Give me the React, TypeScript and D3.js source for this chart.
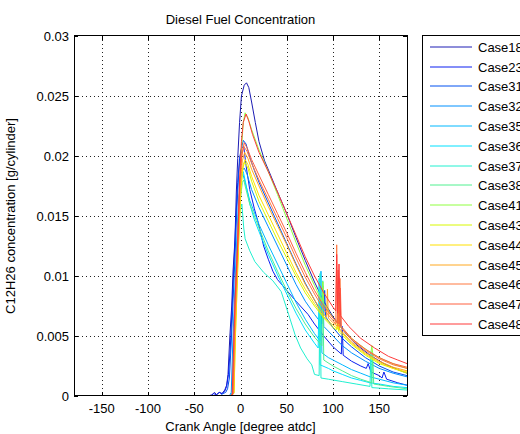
import React from "react";
import * as d3 from "d3";

const TITLE = "Diesel Fuel Concentration";
const X_LABEL = "Crank Angle [degree atdc]";
const Y_LABEL = "C12H26 concentration [g/cylinder]";

const X_TICKS = [-150, -100, -50, 0, 50, 100, 150];
const Y_TICKS = [0, 0.005, 0.01, 0.015, 0.02, 0.025, 0.03];
const Y_TICK_LABELS = ["0", "0.005", "0.01", "0.015", "0.02", "0.025", "0.03"];

const CASES = ["Case18", "Case23", "Case31", "Case32", "Case35", "Case36", "Case37", "Case38", "Case41", "Case43", "Case44", "Case45", "Case46", "Case47", "Case48"];

// [crank angle, concentration]
const case18 = [[-35,0],[-31,0.0001],[-28,0.0003],[-26,0.0001],[-23,0.0003],[-20,0.0002],[-17,0.0005],[-15,0.0009],[-13.5,0.0018],[-11.5,0.005],[-9.5,0.0075],[-8,0.0105],[-6,0.013],[-4.5,0.017],[-3,0.0198],[-1,0.0228],[1,0.025],[4,0.0259],[6.5,0.0261],[9,0.0257],[12,0.0245],[16,0.0228],[20,0.0212],[26,0.0196],[32,0.0185],[40,0.017],[50,0.0152],[60,0.0132],[70,0.0113],[80,0.0095],[90,0.0079],[100,0.0066],[106,0.006],[107,0.0086],[108,0.0058],[115,0.0051],[125,0.0043],[140,0.0034],[155,0.0027],[170,0.0022],[180,0.0019]];
const case23 = [[-32,0],[-29,0.0002],[-26,0.0001],[-23,0.0003],[-20,0.0002],[-17,0.0004],[-15,0.0008],[-13,0.0018],[-11,0.004],[-9,0.0075],[-7,0.011],[-5,0.0148],[-3,0.0178],[-1,0.0198],[1.5,0.0207],[3.5,0.0208],[6,0.0192],[10,0.0172],[15,0.0156],[19,0.0145],[25,0.0125],[30,0.0114],[35,0.0104],[40,0.0097],[50,0.0088],[60,0.0079],[73,0.0068],[80,0.006],[90,0.005],[100,0.0041],[109,0.0035],[110,0.0058],[111,0.0034],[120,0.0029],[130,0.0025],[136,0.0023],[138,0.0027],[141,0.002],[150,0.0017],[153,0.0015],[155,0.002],[158,0.0014],[170,0.0011],[180,0.0009]];
const case31 = [[-22,0],[-19,0.0002],[-16,0.0003],[-14,0.0006],[-12,0.0015],[-10,0.0045],[-8,0.008],[-6,0.0115],[-4,0.0155],[-2,0.0185],[0,0.0203],[3,0.0213],[6,0.021],[10,0.0199],[15,0.0188],[20,0.0178],[30,0.0161],[40,0.0144],[50,0.0127],[60,0.011],[70,0.0094],[80,0.008],[88,0.0069],[90,0.0067],[91,0.0088],[92,0.0066],[100,0.0057],[110,0.0048],[120,0.0041],[135,0.0032],[150,0.0025],[165,0.002],[180,0.0017]];
const case32 = [[-12,0],[-10,0.0003],[-8.5,0.004],[-6.5,0.008],[-4.5,0.012],[-2.5,0.0155],[-0.5,0.0178],[2,0.0188],[4,0.019],[7,0.0185],[12,0.0172],[20,0.0157],[30,0.0141],[40,0.0125],[50,0.0109],[60,0.0093],[70,0.0079],[80,0.0068],[88,0.006],[89,0.0092],[90,0.0058],[100,0.005],[110,0.0042],[120,0.0036],[135,0.0029],[150,0.0023],[165,0.0019],[180,0.0016]];
const case35 = [[-11,0],[-9,0.0003],[-7.5,0.0045],[-5.5,0.009],[-3.5,0.013],[-1.5,0.0165],[0.5,0.0182],[2.5,0.0185],[5,0.0178],[10,0.0163],[20,0.0143],[30,0.0126],[40,0.011],[50,0.0094],[60,0.0078],[70,0.0064],[80,0.0052],[86,0.0046],[87,0.0104],[88,0.0036],[95,0.0032],[100,0.003],[110,0.0026],[120,0.0022],[130,0.0019],[140,0.0016],[150,0.0014],[165,0.0011],[180,0.0009]];
const case36 = [[-11,0],[-8.5,0.0003],[-7,0.005],[-5,0.0095],[-3,0.0138],[-1,0.017],[1,0.0184],[3,0.0187],[6,0.0176],[10,0.016],[15,0.0147],[20,0.0137],[30,0.0118],[40,0.0101],[50,0.0085],[60,0.0069],[70,0.0055],[80,0.0044],[84,0.004],[85,0.0098],[86,0.0026],[95,0.0023],[100,0.0021],[110,0.0018],[120,0.0015],[130,0.0013],[140,0.0011],[150,0.001],[165,0.0008],[180,0.0007]];
const case37 = [[-10,0],[-8,0.0003],[-6.5,0.005],[-4.5,0.0095],[-2.5,0.013],[-0.5,0.0155],[1.5,0.016],[3.5,0.014],[5,0.0131],[10,0.0121],[15.5,0.0112],[25,0.0103],[35,0.0096],[44,0.0087],[52,0.0068],[59,0.0051],[65,0.004],[72,0.0031],[77,0.0026],[80,0.0018],[85,0.0017],[86,0.0102],[87,0.0015],[95,0.0014],[110,0.0012],[125,0.001],[140,0.0008],[141,0.0037],[142,0.0007],[160,0.0006],[180,0.0005]];
const case38 = [[-10,0],[-7.5,0.0002],[-6,0.005],[-4,0.0095],[-2,0.0135],[0,0.0165],[2,0.0178],[3.5,0.018],[6,0.0172],[10,0.016],[20,0.014],[30,0.0121],[40,0.0104],[50,0.0088],[60,0.0073],[70,0.006],[80,0.0049],[88,0.0042],[89,0.0096],[90,0.003],[100,0.0025],[110,0.0021],[120,0.0017],[130,0.0014],[142,0.0011],[143,0.0035],[144,0.001],[160,0.0008],[180,0.0006]];
const case41 = [[-11,0],[-8,0.0002],[-6.5,0.005],[-5,0.009],[-3,0.0125],[-1,0.017],[1,0.0205],[3,0.0228],[5,0.0236],[8,0.0232],[12,0.0222],[20,0.0205],[30,0.0187],[40,0.0168],[50,0.0148],[60,0.0128],[70,0.0109],[80,0.0092],[88,0.0079],[89,0.0095],[90,0.0077],[100,0.0065],[110,0.0056],[120,0.0048],[130,0.0042],[141,0.0036],[142,0.0042],[143,0.0035],[155,0.003],[168,0.0026],[180,0.0023]];
const case43 = [[-10,0],[-7,0.0003],[-5.5,0.005],[-3.5,0.0095],[-1.5,0.0138],[0.5,0.0172],[2.5,0.019],[4.5,0.0195],[8,0.019],[12,0.0179],[20,0.0162],[30,0.0146],[40,0.013],[50,0.0115],[60,0.01],[70,0.0086],[80,0.0075],[90,0.0065],[100,0.0057],[104,0.0055],[105,0.007],[106,0.0054],[120,0.0043],[135,0.0034],[150,0.0027],[165,0.0023],[180,0.0019]];
const case44 = [[-10,0],[-7,0.0003],[-5.5,0.005],[-3.5,0.0095],[-1.5,0.014],[0.5,0.0175],[3,0.0193],[5,0.0197],[8,0.0193],[12,0.0183],[20,0.0167],[30,0.0151],[40,0.0135],[50,0.0119],[60,0.0103],[70,0.0089],[80,0.0077],[90,0.0066],[100,0.0059],[105,0.0056],[106,0.0075],[107,0.0055],[120,0.0044],[135,0.0035],[150,0.0028],[165,0.0023],[180,0.002]];
const case45 = [[-10,0],[-7.5,0.0002],[-6,0.005],[-4,0.0095],[-2,0.014],[0,0.0178],[2,0.0196],[4.5,0.0203],[8,0.0198],[12,0.0189],[20,0.0175],[30,0.0158],[40,0.0142],[50,0.0126],[60,0.0109],[70,0.0093],[80,0.008],[90,0.0068],[93,0.0066],[94,0.0089],[95,0.0065],[100,0.0061],[105,0.0058],[106,0.0082],[107,0.0056],[120,0.0045],[135,0.0036],[150,0.0029],[165,0.0024],[180,0.0021]];
const case46 = [[-11,0],[-8,0.0002],[-6.5,0.0055],[-4.5,0.0095],[-2.5,0.014],[-0.5,0.018],[1.5,0.0202],[3.5,0.0208],[7,0.0204],[12,0.0194],[20,0.018],[30,0.0164],[40,0.0148],[50,0.0132],[60,0.0115],[70,0.0099],[80,0.0085],[90,0.0072],[100,0.0063],[103,0.006],[104,0.0126],[105,0.0059],[107,0.0058],[107.5,0.0098],[108.5,0.0057],[120,0.0047],[135,0.0038],[150,0.0031],[165,0.0026],[180,0.0023]];
const case47 = [[-11,0],[-8.5,0.0002],[-7,0.005],[-5,0.0095],[-3,0.0135],[-1,0.0175],[1,0.0198],[4,0.0211],[7,0.0207],[12,0.0197],[20,0.0184],[30,0.0168],[40,0.0152],[50,0.0136],[60,0.0119],[70,0.0103],[80,0.0088],[90,0.0075],[100,0.0065],[104.5,0.0061],[105.5,0.0105],[106.5,0.006],[108,0.009],[109,0.0058],[120,0.0048],[135,0.0039],[150,0.0032],[165,0.0027],[180,0.0024]];
const case48 = [[-12,0],[-9,0.0001],[-7.5,0.004],[-6,0.008],[-4,0.011],[-2.6,0.0134],[-1,0.018],[1,0.0212],[3,0.0228],[6,0.0235],[9,0.0229],[13,0.0218],[20,0.0203],[30,0.0187],[40,0.017],[50,0.0152],[60,0.0134],[70,0.0116],[80,0.01],[90,0.0086],[100,0.0074],[103,0.0071],[104,0.0118],[105,0.0069],[106.5,0.011],[108,0.0067],[117,0.0058],[130,0.0048],[145,0.004],[160,0.0033],[170,0.003],[180,0.0027]];

const SERIES = [case18, case23, case31, case32, case35, case36, case37, case38, case41, case43, case44, case45, case46, case47, case48];

const COLORS = ["#1c1cb4", "#0a1ef0", "#0050f0", "#0090ff", "#00b8ff", "#00e0ff", "#20f0d0", "#50f090", "#90ff40", "#d8f800", "#ffe000", "#ffa820", "#ff7840", "#ff6040", "#ff3a3a"];

const W = 520;
const H = 434;
const PL = 74;
const PR = 407;
const PT = 36;
const PB = 396;
const FONT = "'Liberation Sans', Arial, sans-serif";

export default function App() {
  const x = d3.scaleLinear().domain([-180, 180]).range([PL, PR]);
  const y = d3.scaleLinear().domain([0, 0.03]).range([PB, PT]);
  const line = d3
    .line<number[]>()
    .x((d) => x(d[0]))
    .y((d) => y(d[1]));

  const px = (v: number) => Math.round(v) + 0.5;
  const tickLen = 4;

  return (
    <svg
      width={W}
      height={H}
      style={{ position: "absolute", left: 0, top: 0, background: "#fff" }}
      fontFamily={FONT}
    >
      <rect x={0} y={0} width={W} height={H} fill="#fff" />
      <defs>
        <clipPath id="plotclip">
          <rect x={PL} y={PT} width={PR - PL} height={PB - PT} />
        </clipPath>
      </defs>
      {X_TICKS.map((t) => (
        <line key={"gx" + t} x1={px(x(t))} x2={px(x(t))} y1={PT} y2={PB} stroke="#222" strokeDasharray="1 3" strokeWidth={1} />
      ))}
      {Y_TICKS.slice(1, -1).map((t) => (
        <line key={"gy" + t} x1={PL} x2={PR} y1={px(y(t))} y2={px(y(t))} stroke="#222" strokeDasharray="1 3" strokeWidth={1} />
      ))}
      <g clipPath="url(#plotclip)">
        {SERIES.map((s, i) => (
          <path key={CASES[i]} d={line(s) || ""} fill="none" stroke={COLORS[i]} strokeWidth={1} strokeLinejoin="round" />
        ))}
      </g>
      <rect x={PL + 0.5} y={PT - 0.5} width={PR - PL} height={PB - PT} fill="none" stroke="#000" strokeWidth={1} />
      {X_TICKS.map((t) => (
        <g key={"tx" + t}>
          <line x1={px(x(t))} x2={px(x(t))} y1={PB} y2={PB - tickLen} stroke="#000" />
          <line x1={px(x(t))} x2={px(x(t))} y1={PT} y2={PT + tickLen} stroke="#000" />
          <text x={x(t)} y={413} fontSize={13} textAnchor="middle" fill="#000">
            {t}
          </text>
        </g>
      ))}
      {Y_TICKS.map((t, i) => (
        <g key={"ty" + t}>
          <line x1={PL} x2={PL + tickLen} y1={px(y(t))} y2={px(y(t))} stroke="#000" />
          <line x1={PR} x2={PR - tickLen} y1={px(y(t))} y2={px(y(t))} stroke="#000" />
          <text x={69} y={y(t) + 4.5} fontSize={13} textAnchor="end" fill="#000">
            {Y_TICK_LABELS[i]}
          </text>
        </g>
      ))}
      <text x={(PL + PR) / 2} y={24} fontSize={13} textAnchor="middle" fill="#000">
        {TITLE}
      </text>
      <text x={(PL + PR) / 2} y={431} fontSize={13} textAnchor="middle" fill="#000">
        {X_LABEL}
      </text>
      <text
        transform={`translate(${15},${(PT + PB) / 2}) rotate(-90)`}
        fontSize={13}
        textAnchor="middle"
        fill="#000"
      >
        {Y_LABEL}
      </text>
      <rect x={422.5} y={35.5} width={130} height={300} fill="#fff" stroke="#000" strokeWidth={1} />
      {CASES.map((c, i) => {
        const ly = Math.round(46.7 + i * 19.8);
        return (
          <g key={"lg" + c}>
            <line x1={430} x2={472} y1={ly} y2={ly} stroke={COLORS[i]} strokeWidth={1} />
            <text x={478} y={ly + 4.5} fontSize={13} fill="#000">
              {c}
            </text>
          </g>
        );
      })}
    </svg>
  );
}
